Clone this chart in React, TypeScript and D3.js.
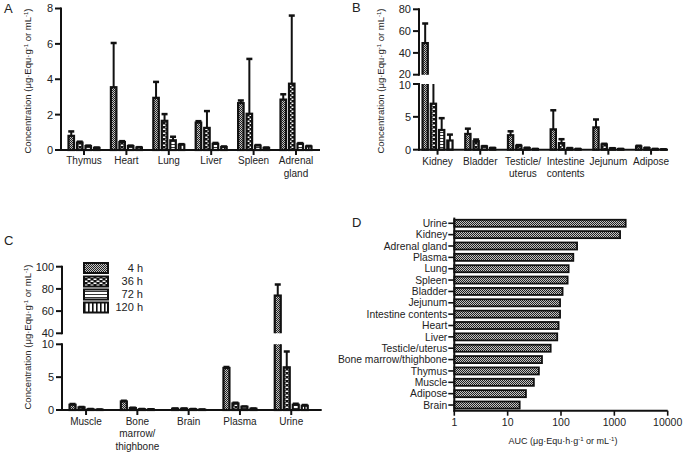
import React from "react";
import * as d3 from "d3";

const W = 685;
const H = 452;

const seriesLabels = ["4 h", "36 h", "72 h", "120 h"];

// Panel A
const catsA = ["Thymus", "Heart", "Lung", "Liver", "Spleen", "Adrenal\ngland"];
const meanA = [
  [0.8, 3.55, 2.95, 1.55, 2.65, 2.85],
  [0.42, 0.45, 1.65, 1.25, 2.05, 3.75],
  [0.22, 0.22, 0.55, 0.35, 0.25, 0.35],
  [0.12, 0.14, 0.3, 0.17, 0.12, 0.2],
];
const errA = [
  [0.25, 2.5, 0.9, 0.08, 0.15, 0.3],
  [0.05, 0.05, 0.38, 0.95, 3.1, 3.85],
  [0.03, 0.03, 0.2, 0.05, 0.03, 0.04],
  [0.02, 0.02, 0.03, 0.03, 0.02, 0.03],
];
const ticksA = [0, 2, 4, 6, 8];

// Panel B
const catsB = ["Kidney", "Bladder", "Testicle/\nuterus", "Intestine\ncontents", "Jejunum", "Adipose"];
const meanB = [
  [49, 2.4, 2.2, 3.1, 3.4, 0.5],
  [7, 1.3, 0.6, 1.0, 0.8, 0.25],
  [3.0, 0.5, 0.25, 0.2, 0.2, 0.1],
  [1.4, 0.25, 0.1, 0.1, 0.1, 0.05],
];
const errB = [
  [18, 0.8, 0.6, 2.9, 1.2, 0.1],
  [5, 0.25, 0.1, 0.6, 0.1, 0.05],
  [1.8, 0.05, 0.05, 0.05, 0.03, 0.02],
  [0.9, 0.03, 0.02, 0.02, 0.02, 0.01],
];
const ticksBLow = [0, 5, 10];
const ticksBHigh = [20, 40, 60, 80];

// Panel C
const catsC = ["Muscle", "Bone\nmarrow/\nthighbone", "Brain", "Plasma", "Urine"];
const meanC = [
  [0.8, 1.3, 0.2, 6.4, 74],
  [0.4, 0.3, 0.2, 1.0, 6.5],
  [0.12, 0.12, 0.12, 0.5, 0.8],
  [0.06, 0.1, 0.06, 0.2, 0.65],
];
const errC = [
  [0.1, 0.1, 0.03, 0.15, 10],
  [0.05, 0.03, 0.03, 0.1, 2.4],
  [0.02, 0.02, 0.02, 0.05, 0.15],
  [0.02, 0.02, 0.02, 0.03, 0.1],
];
const ticksCLow = [0, 5, 10];
const ticksCHigh = [40, 60, 80, 100];

// Panel D
const catsD = [
  "Urine", "Kidney", "Adrenal gland", "Plasma", "Lung", "Spleen", "Bladder", "Jejunum",
  "Intestine contents", "Heart", "Liver", "Testicle/uterus", "Bone marrow/thighbone",
  "Thymus", "Muscle", "Adipose", "Brain",
];
const aucD = [1630, 1280, 200, 170, 139, 133, 107, 96, 96, 90, 85, 64, 44, 38.5, 31, 22, 16.8];
const ticksD = [1, 10, 100, 1000, 10000];

const FONT = "'Liberation Sans', Arial, sans-serif";
const INK = "#111";
const TXT = "#222";

type Seg = { scale: d3.ScaleLinear<number, number>; clip: [number, number]; ticks: number[]; nudge?: number };

function YTitle({ x, y, fs = 9.5 }: { x: number; y: number; fs?: number }) {
  return (
    <text transform={`translate(${x},${y}) rotate(-90)`} textAnchor="middle" fontSize={fs} fill={TXT}>
      Concentration (μg·Equ·g
      <tspan dy={-3.5} fontSize={6}>-1</tspan>
      <tspan dy={3.5}> or mL</tspan>
      <tspan dy={-3.5} fontSize={6}>-1</tspan>
      <tspan dy={3.5}>)</tspan>
    </text>
  );
}

function BarPanel(props: {
  id: string;
  cats: string[];
  means: number[][];
  errs: number[][];
  segs: Seg[];
  axisX: number;
  xEnd: number;
  y0: number;
  band: [number, number];
  groupW: number;
  labelY: number;
  labelDy: number;
}) {
  const { id, cats, means, errs, segs, axisX, xEnd, y0, band, groupW, labelY, labelDy } = props;
  const xb = d3.scaleBand<string>().domain(cats).range(band);
  const xs = d3.scaleBand<string>().domain(seriesLabels).range([0, groupW]);
  const step = xs.bandwidth();
  return (
    <g>
      {segs.map((seg, k) => {
        const cid = `${id}-clip${k}`;
        const tmax = seg.ticks[seg.ticks.length - 1];
        return (
          <g key={k}>
            <clipPath id={cid}>
              <rect x={0} y={seg.clip[0]} width={W} height={seg.clip[1] - seg.clip[0]} />
            </clipPath>
            <g clipPath={`url(#${cid})`}>
              {means.map((row, s) =>
                row.map((v, i) => {
                  const x = (xb(cats[i]) as number) + (xb.bandwidth() - groupW) / 2 + (xs(seriesLabels[s]) as number);
                  const yT = seg.scale(v);
                  const yB = seg.scale(0);
                  const yE = seg.scale(v + errs[s][i]);
                  const cx = x + step / 2;
                  return (
                    <g key={`${s}-${i}`}>
                      <line x1={cx} x2={cx} y1={yT} y2={yE} stroke={INK} strokeWidth={2} />
                      <line x1={cx - 3} x2={cx + 3} y1={yE} y2={yE} stroke={INK} strokeWidth={2.5} />
                      <rect
                        x={x + 1.5}
                        y={yT}
                        width={step - 3}
                        height={yB - yT}
                        fill={`url(#pat${s})`}
                        stroke={INK}
                        strokeWidth={2.2}
                      />
                    </g>
                  );
                })
              )}
            </g>
            <line x1={axisX} x2={axisX} y1={seg.scale(tmax) - 1} y2={seg.scale(seg.ticks[0]) + 1} stroke={INK} strokeWidth={2} />
            {seg.ticks.map((t, j) => {
              let dy = 0;
              if (seg.nudge && j === 0 && k === 1) dy = -seg.nudge;
              if (seg.nudge && j === seg.ticks.length - 1 && k === 0) dy = seg.nudge;
              return (
                <g key={t}>
                  <line x1={axisX - 6} x2={axisX} y1={seg.scale(t)} y2={seg.scale(t)} stroke={INK} strokeWidth={2} />
                  <text x={axisX - 8} y={seg.scale(t) + dy} dy="0.36em" textAnchor="end" fontSize={11} fill={TXT}>
                    {t}
                  </text>
                </g>
              );
            })}
          </g>
        );
      })}
      <line x1={axisX - 1} x2={xEnd} y1={y0} y2={y0} stroke={INK} strokeWidth={2} />
      {cats.map((c) => {
        const cx = (xb(c) as number) + xb.bandwidth() / 2;
        return (
          <g key={c}>
            <line x1={cx} x2={cx} y1={y0} y2={y0 + 5} stroke={INK} strokeWidth={2} />
            <text x={cx} y={labelY} textAnchor="middle" fontSize={10} fill={TXT}>
              {c.split("\n").map((ln, j) => (
                <tspan key={j} x={cx} dy={j === 0 ? 0 : labelDy}>
                  {ln}
                </tspan>
              ))}
            </text>
          </g>
        );
      })}
    </g>
  );
}

function Legend({ x }: { x: number }) {
  const rows = [263, 276.5, 289.5, 302.5];
  return (
    <g>
      {seriesLabels.map((s, i) => (
        <g key={s}>
          <rect x={x} y={rows[i]} width={24} height={10} fill={`url(#pat${i})`} stroke={INK} strokeWidth={2} />
          <text x={x + 59} y={rows[i] + 5} dy="0.36em" textAnchor="end" fontSize={11} fill={TXT}>
            {s}
          </text>
        </g>
      ))}
    </g>
  );
}

function PanelD() {
  const axisX = 454.3;
  const y0 = 410.7;
  const xl = d3.scaleLog().domain([1, 10000]).range([axisX, 667.7]);
  const yb = d3.scaleBand<string>().domain(catsD).range([217.6, y0]);
  const step = yb.bandwidth();
  const bh = step * 0.62;
  return (
    <g>
      {catsD.map((c, i) => {
        const cy = (yb(c) as number) + step / 2;
        return (
          <g key={c}>
            <rect
              x={axisX}
              y={cy - bh / 2}
              width={xl(aucD[i]) - axisX}
              height={bh}
              fill="url(#pat0)"
              stroke={INK}
              strokeWidth={1.8}
            />
            <line x1={axisX - 6} x2={axisX} y1={cy} y2={cy} stroke={INK} strokeWidth={1.6} />
            <text x={axisX - 7} y={cy} dy="0.36em" textAnchor="end" fontSize={10.3} fill={TXT}>
              {c}
            </text>
          </g>
        );
      })}
      <line x1={axisX} x2={axisX} y1={217.6} y2={y0 + 1} stroke={INK} strokeWidth={2} />
      <line x1={axisX - 1} x2={667.7} y1={y0} y2={y0} stroke={INK} strokeWidth={2} />
      {ticksD.map((t) => (
        <g key={t}>
          <line x1={xl(t)} x2={xl(t)} y1={y0} y2={y0 + 5} stroke={INK} strokeWidth={1.6} />
          <text x={xl(t)} y={426} textAnchor="middle" fontSize={10.5} fill={TXT}>
            {t}
          </text>
        </g>
      ))}
      <text x={563} y={444} textAnchor="middle" fontSize={9} fill={TXT}>
        AUC (μg·Equ·h·g
        <tspan dy={-3.2} fontSize={6}>-1</tspan>
        <tspan dy={3.2}> or mL</tspan>
        <tspan dy={-3.2} fontSize={6}>-1</tspan>
        <tspan dy={3.2}>)</tspan>
      </text>
    </g>
  );
}

export default function App() {
  const yA = d3.scaleLinear().domain([0, 8]).range([150, 8.5]);
  const yBLow = d3.scaleLinear().domain([0, 10]).range([149.7, 84]);
  const yBHigh = d3.scaleLinear().domain([20, 80]).range([74.7, 9.3]);
  const yCLow = d3.scaleLinear().domain([0, 10]).range([410, 344.3]);
  const yCHigh = d3.scaleLinear().domain([40, 100]).range([333.3, 266.7]);

  return (
    <svg
      width={W}
      height={H}
      style={{ position: "absolute", left: 0, top: 0, background: "#fff" }}
      fontFamily={FONT}
    >
      <defs>
        <pattern id="pat0" patternUnits="userSpaceOnUse" width={2} height={2}>
          <rect width={2} height={2} fill="#c4c4c4" />
          <rect x={0} y={0} width={1} height={1} fill="#222" />
          <rect x={1} y={1} width={1} height={1} fill="#222" />
        </pattern>
        <pattern id="pat1" patternUnits="userSpaceOnUse" width={6} height={4}>
          <rect width={6} height={4} fill="#111" />
          <rect x={0.5} y={0.5} width={3} height={1.5} fill="#fff" />
          <rect x={3.5} y={2.5} width={3} height={1.5} fill="#fff" />
          <rect x={-2.5} y={2.5} width={3} height={1.5} fill="#fff" />
        </pattern>
        <pattern id="pat2" patternUnits="userSpaceOnUse" width={3} height={3}>
          <rect width={3} height={3} fill="#fff" />
          <rect x={0} y={0} width={3} height={1} fill="#333" />
        </pattern>
        <pattern id="pat3" patternUnits="userSpaceOnUse" width={4} height={4}>
          <rect width={4} height={4} fill="#fff" />
          <rect x={0} y={0} width={1.6} height={4} fill="#111" />
        </pattern>
      </defs>
      <rect width={W} height={H} fill="#fff" />

      {/* Panel letters */}
      <text x={4} y={13} fontSize={13} fill={TXT}>A</text>
      <text x={352} y={12} fontSize={13} fill={TXT}>B</text>
      <text x={4} y={245} fontSize={13} fill={TXT}>C</text>
      <text x={352} y={227} fontSize={13} fill={TXT}>D</text>

      {/* Panel A */}
      <YTitle x={31} y={81} />
      <BarPanel
        id="A"
        cats={catsA}
        means={meanA}
        errs={errA}
        segs={[{ scale: yA, clip: [0, 200], ticks: ticksA }]}
        axisX={61}
        xEnd={320}
        y0={150}
        band={[62.8, 317.2]}
        groupW={34}
        labelY={164}
        labelDy={12.5}
      />

      {/* Panel B */}
      <YTitle x={384} y={81} />
      <BarPanel
        id="B"
        cats={catsB}
        means={meanB}
        errs={errB}
        segs={[
          { scale: yBLow, clip: [84, 200], ticks: ticksBLow, nudge: 1 },
          { scale: yBHigh, clip: [0, 74.7], ticks: ticksBHigh, nudge: 1 },
        ]}
        axisX={419}
        xEnd={668}
        y0={149.7}
        band={[416.2, 672.4]}
        groupW={33}
        labelY={165}
        labelDy={12}
      />

      {/* Panel C */}
      <YTitle x={31} y={337} />
      <BarPanel
        id="C"
        cats={catsC}
        means={meanC}
        errs={errC}
        segs={[
          { scale: yCLow, clip: [344.3, 452], ticks: ticksCLow },
          { scale: yCHigh, clip: [230, 333.3], ticks: ticksCHigh },
        ]}
        axisX={62}
        xEnd={321.7}
        y0={410}
        band={[60.4, 316.9]}
        groupW={36}
        labelY={425}
        labelDy={12.3}
      />
      <Legend x={84} />

      {/* Panel D */}
      <PanelD />
    </svg>
  );
}
